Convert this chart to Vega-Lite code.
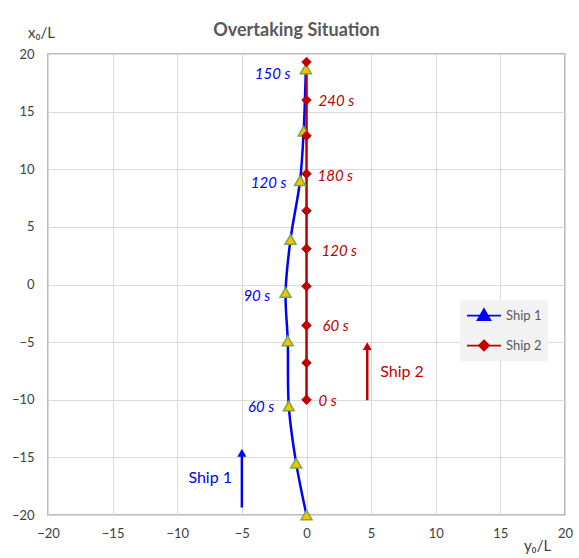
{
  "$schema": "https://vega.github.io/schema/vega-lite/v6.json",
  "width": 517,
  "height": 461,
  "autosize": "none",
  "padding": {"left": 48, "top": 54, "right": 14, "bottom": 43},
  "background": "white",
  "title": {"text": "Overtaking Situation", "fontSize": 18, "fontWeight": "bold", "color": "#595959", "font": "Lato", "anchor": "middle", "dx": -10, "dy": 23, "offset": 8},
  "datasets": {
    "track": [
      {"ship": "Ship 1", "t": 30, "x": 0, "y": -20},
      {"ship": "Ship 1", "t": 45, "x": -0.8, "y": -15.5},
      {"ship": "Ship 1", "t": 60, "x": -1.37, "y": -10.55},
      {"ship": "Ship 1", "t": 75, "x": -1.45, "y": -4.9},
      {"ship": "Ship 1", "t": 90, "x": -1.62, "y": -0.7},
      {"ship": "Ship 1", "t": 105, "x": -1.24, "y": 3.9},
      {"ship": "Ship 1", "t": 120, "x": -0.5, "y": 9.0},
      {"ship": "Ship 1", "t": 135, "x": -0.22, "y": 13.3},
      {"ship": "Ship 1", "t": 150, "x": -0.05, "y": 18.7},
      {"ship": "Ship 2", "t": 0, "x": 0, "y": -10},
      {"ship": "Ship 2", "t": 30, "x": 0, "y": -6.8},
      {"ship": "Ship 2", "t": 60, "x": 0, "y": -3.55},
      {"ship": "Ship 2", "t": 90, "x": 0, "y": -0.15},
      {"ship": "Ship 2", "t": 120, "x": 0, "y": 3.1},
      {"ship": "Ship 2", "t": 150, "x": 0, "y": 6.4},
      {"ship": "Ship 2", "t": 180, "x": 0, "y": 9.6},
      {"ship": "Ship 2", "t": 210, "x": 0, "y": 12.9},
      {"ship": "Ship 2", "t": 240, "x": 0, "y": 16.0},
      {"ship": "Ship 2", "t": 270, "x": 0, "y": 19.3}
    ],
    "timeLabels": [
      {"ship": "Ship 1", "x": -1.24, "y": 18.3, "label": "150 s"},
      {"ship": "Ship 1", "x": -1.55, "y": 8.85, "label": "120 s"},
      {"ship": "Ship 1", "x": -2.8, "y": -1.04, "label": "90 s"},
      {"ship": "Ship 1", "x": -2.5, "y": -10.6, "label": "60 s"},
      {"ship": "Ship 2", "x": 0.93, "y": 15.9, "label": "240 s"},
      {"ship": "Ship 2", "x": 0.85, "y": 9.4, "label": "180 s"},
      {"ship": "Ship 2", "x": 1.16, "y": 2.95, "label": "120 s"},
      {"ship": "Ship 2", "x": 1.24, "y": -3.64, "label": "60 s"},
      {"ship": "Ship 2", "x": 0.93, "y": -10.07, "label": "0 s"}
    ],
    "arrows": [
      {"ship": "Ship 1", "x": -5, "y": -19.35, "y2": -14.6},
      {"ship": "Ship 2", "x": 4.7, "y": -10.04, "y2": -5.35}
    ],
    "shipNames": [
      {"ship": "Ship 1", "x": -7.45, "y": -16.8, "label": "Ship 1"},
      {"ship": "Ship 2", "x": 7.39, "y": -7.55, "label": "Ship 2"}
    ]
  },
  "layer": [
    {
      "mark": {"type": "rule", "color": "#000000", "strokeWidth": 1},
      "encoding": {"x": {"datum": 0, "type": "quantitative", "scale": {"domain": [-20, 20], "nice": false, "zero": false}}}
    },
    {
      "mark": {"type": "rule", "color": "#000000", "strokeWidth": 1},
      "encoding": {"y": {"datum": 0, "type": "quantitative", "scale": {"domain": [-20, 20], "nice": false, "zero": false}}}
    },
    {
      "data": {"name": "track"},
      "mark": {"type": "line", "interpolate": "catmull-rom", "strokeWidth": 2.5},
      "encoding": {
        "x": {"field": "x", "type": "quantitative", "scale": {"domain": [-20, 20], "nice": false, "zero": false},
          "axis": {"values": [-20, -15, -10, -5, 0, 5, 10, 15, 20], "title": "y₀/L", "titleX": 489, "titleY": 30, "titleAlign": "center", "titleBaseline": "middle", "labelFlush": false, "labelPadding": 12}},
        "y": {"field": "y", "type": "quantitative", "scale": {"domain": [-20, 20], "nice": false, "zero": false},
          "axis": {"values": [-20, -15, -10, -5, 0, 5, 10, 15, 20], "title": "x₀/L", "titleAngle": 0, "titleX": -7, "titleY": -22, "titleAlign": "center", "titleBaseline": "middle", "labelPadding": 14}},
        "order": {"field": "t", "type": "quantitative"},
        "color": {"field": "ship", "type": "nominal", "scale": {"domain": ["Ship 1", "Ship 2"], "range": ["#0000FF", "#C00000"]},
          "legend": {
            "title": null,
            "orient": "none",
            "legendX": 412,
            "legendY": 246,
            "fillColor": "#f2f2f2",
            "padding": 6,
            "symbolSize": 289,
            "rowPadding": 12,
            "labelFontSize": 13,
            "labelColor": "#595959",
            "labelFont": "Lato",
            "labelOffset": 21,
            "encode": {
              "symbols": {
                "update": {
                  "shape": {"signal": "datum.value === 'Ship 1' ? 'M-1,0H0.57M1.43,0H3M1,-0.75L1.75,0.55L0.25,0.55Z' : 'M-1,0H3M1,-0.6L1.6,0L1,0.6L0.4,0Z'"},
                  "fill": {"signal": "datum.value === 'Ship 1' ? '#FFC000' : '#C00000'"},
                  "stroke": {"signal": "datum.value === 'Ship 1' ? '#0000FF' : '#C00000'"},
                  "strokeWidth": {"value": 1.75},
                  "fillOpacity": {"value": 1}
                }
              }
            }
          }}
      }
    },
    {
      "data": {"name": "track"},
      "transform": [{"filter": "datum.ship === 'Ship 1'"}],
      "mark": {"type": "point", "shape": "triangle-up", "filled": true, "fill": "#FFC000", "stroke": "#70AD47", "strokeWidth": 1.5, "size": 120, "opacity": 1},
      "encoding": {
        "x": {"field": "x", "type": "quantitative"},
        "y": {"field": "y", "type": "quantitative"}
      }
    },
    {
      "data": {"name": "track"},
      "transform": [{"filter": "datum.ship === 'Ship 2'"}],
      "mark": {"type": "point", "shape": "diamond", "filled": true, "fill": "#C00000", "stroke": "#C00000", "strokeWidth": 1, "size": 90, "opacity": 1},
      "encoding": {
        "x": {"field": "x", "type": "quantitative"},
        "y": {"field": "y", "type": "quantitative"}
      }
    },
    {
      "data": {"name": "timeLabels"},
      "transform": [{"filter": "datum.ship === 'Ship 1'"}],
      "mark": {"type": "text", "fontSize": 15, "fontStyle": "italic", "baseline": "middle", "align": "right", "font": "Lato"},
      "encoding": {
        "x": {"field": "x", "type": "quantitative"},
        "y": {"field": "y", "type": "quantitative"},
        "text": {"field": "label"},
        "color": {"field": "ship", "type": "nominal"}
      }
    },
    {
      "data": {"name": "timeLabels"},
      "transform": [{"filter": "datum.ship === 'Ship 2'"}],
      "mark": {"type": "text", "fontSize": 15, "fontStyle": "italic", "baseline": "middle", "align": "left", "font": "Lato"},
      "encoding": {
        "x": {"field": "x", "type": "quantitative"},
        "y": {"field": "y", "type": "quantitative"},
        "text": {"field": "label"},
        "color": {"field": "ship", "type": "nominal"}
      }
    },
    {
      "data": {"name": "arrows"},
      "mark": {"type": "rule", "strokeWidth": 2.5},
      "encoding": {
        "x": {"field": "x", "type": "quantitative"},
        "y": {"field": "y", "type": "quantitative"},
        "y2": {"field": "y2"},
        "color": {"field": "ship", "type": "nominal"}
      }
    },
    {
      "data": {"name": "arrows"},
      "mark": {"type": "point", "shape": "triangle-up", "filled": true, "size": 81, "opacity": 1},
      "encoding": {
        "x": {"field": "x", "type": "quantitative"},
        "y": {"field": "y2", "type": "quantitative"},
        "color": {"field": "ship", "type": "nominal"}
      }
    },
    {
      "data": {"name": "shipNames"},
      "mark": {"type": "text", "fontSize": 16, "baseline": "middle", "align": "center", "font": "Lato"},
      "encoding": {
        "x": {"field": "x", "type": "quantitative"},
        "y": {"field": "y", "type": "quantitative"},
        "text": {"field": "label"},
        "color": {"field": "ship", "type": "nominal"}
      }
    }
  ],
  "config": {
    "font": "Lato",
    "view": {"stroke": "#a6a6a6", "strokeWidth": 1.5},
    "axis": {
      "grid": true,
      "gridColor": "#d9d9d9",
      "gridWidth": 1,
      "ticks": false,
      "domain": false,
      "labelFontSize": 13,
      "labelColor": "#404040",
      "labelFont": "Lato",
      "titleFont": "Lato",
      "titleFontSize": 15,
      "titleFontWeight": "normal",
      "titleColor": "#404040"
    }
  }
}
